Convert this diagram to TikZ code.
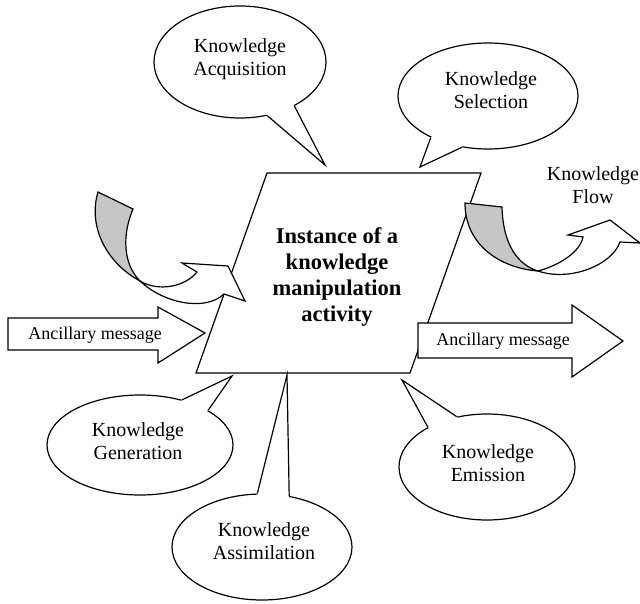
\documentclass[tikz,border=0pt]{standalone}
\usepackage{fontspec}
\setmainfont{Liberation Serif}
\usetikzlibrary{shapes.geometric,calc}
\begin{document}
\begin{tikzpicture}[x=1pt,y=-1pt,line width=1.2pt,line join=miter,
  balloon/.style={ellipse,draw,fill=white,inner sep=0pt},
  btext/.style={align=center,font=\fontsize{20}{23}\selectfont,inner sep=0pt},
  atext/.style={font=\fontsize{18}{21}\selectfont,inner sep=0pt},
  ribbon/.style={draw,fill=gray!45},
  whitebody/.style={draw,fill=white}]
\useasboundingbox (0,0) rectangle (640,603);

% central parallelogram
\coordinate (TL) at (267,173);
\coordinate (TR) at (481,173);
\coordinate (BR) at (410,373);
\coordinate (BL) at (196,373);
\draw[fill=white] (TL) -- (TR) -- (BR) -- (BL) -- cycle;
\node[align=center,inner sep=0pt,font=\bfseries\fontsize{22.5}{26}\selectfont] (inst) at (337,277) {Instance of a\\knowledge\\manipulation\\activity};

% left twisted arrow
\coordinate (la1) at (98,192);
\coordinate (la2) at (133,209);
\coordinate (lx) at (140,281);
\path[ribbon] (la1) -- (la2) .. controls (122,235) and (123,264) .. (lx)
  .. controls (105,262) and (88,225) .. (la1) -- cycle;
\path[whitebody] (lx) .. controls (158,292) and (185,287) .. (197,272) -- (182,263) -- (228,266) -- (245,301) -- (224,294)
  .. controls (205,312) and (163,303) .. (lx) -- cycle;

% right twisted arrow
\coordinate (ra1) at (465,203);
\coordinate (ra2) at (502,207);
\coordinate (rx) at (538,271);
\path[ribbon] (ra1) -- (ra2) .. controls (503,245) and (518,265) .. (rx)
  .. controls (500,268) and (465,245) .. (ra1) -- cycle;
\path[whitebody] (rx) .. controls (560,265) and (580,252) .. (583,237) -- (568,235) -- (610,220) -- (640,243) -- (620,242)
  .. controls (612,265) and (570,282) .. (rx) -- cycle;
\node[btext] (flow) at (593,185) {Knowledge\\Flow};

% ancillary message arrows
\coordinate (lt) at (205,333);
\path[whitebody] (8,318) -- (158,318) -- (158,307) -- (lt) -- (158,363) -- (158,350) -- (8,350) -- cycle;
\node[atext] (lmsg) at (95,335) {Ancillary message};
\coordinate (rt) at (623,341);
\path[whitebody] (418,323) -- (572,323) -- (572,305) -- (rt) -- (572,377) -- (572,358) -- (418,358) -- cycle;
\node[atext] (rmsg) at (503,341) {Ancillary message};

% balloons
\node[balloon,minimum width=172pt,minimum height=112pt] (acq) at (240,62) {};
\node[balloon,minimum width=180pt,minimum height=106pt] (sel) at (488,96) {};
\node[balloon,minimum width=186pt,minimum height=100pt] (gen) at (140,445) {};
\node[balloon,minimum width=180pt,minimum height=106pt] (asm) at (262,547) {};
\node[balloon,minimum width=176pt,minimum height=106pt] (emi) at (487,467) {};

\coordinate (tacq) at (325,165);
\coordinate (tsel) at (420,167);
\coordinate (tgen) at (232,376);
\coordinate (tasm) at (287,375);
\coordinate (temi) at (402,380);

\fill[white] (acq.-63) -- (tacq) -- (acq.-39) -- (acq.center) -- cycle;
\draw (acq.-63) -- (tacq) -- (acq.-39);
\fill[white] (sel.-144) -- (tsel) -- (sel.-117) -- (sel.center) -- cycle;
\draw (sel.-144) -- (tsel) -- (sel.-117);
\fill[white] (gen.47) -- (tgen) -- (gen.27) -- (gen.center) -- cycle;
\draw (gen.47) -- (tgen) -- (gen.27);
\fill[white] (asm.95) -- (tasm) -- (asm.62) -- (asm.center) -- cycle;
\draw (asm.95) -- (tasm) -- (asm.62);
\fill[white] (emi.146) -- (temi) -- (emi.121) -- (emi.center) -- cycle;
\draw (emi.146) -- (temi) -- (emi.121);

\node[btext] (acqt) at (240,59) {Knowledge\\Acquisition};
\node[btext] (selt) at (491,90) {Knowledge\\Selection};
\node[btext] (gent) at (138,441) {Knowledge\\Generation};
\node[btext] (asmt) at (264,541) {Knowledge\\Assimilation};
\node[btext] (emit) at (488,463) {Knowledge\\Emission};
\end{tikzpicture}
\end{document}
